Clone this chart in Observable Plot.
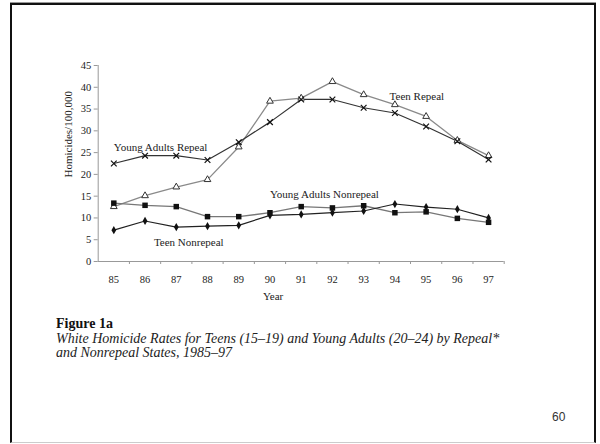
<!DOCTYPE html>
<html>
<head>
<meta charset="utf-8">
<script src="https://cdn.jsdelivr.net/npm/d3@7"></script>
<script src="https://cdn.jsdelivr.net/npm/@observablehq/plot@0.6"></script>
<style>
  html, body { margin: 0; padding: 0; background: #fff; }
  #page { position: relative; width: 600px; height: 444px; overflow: hidden; background: #fff; }
  #frame { position: absolute; left: 10px; top: 3px; width: 582px; height: 437px;
           border-left: 2px solid #111; border-top: 2px solid #111; border-right: 2px solid #111;
           border-bottom: 1px solid #ccc; box-shadow: 0 -1px 0 #999; }
  #chart { position: absolute; left: 0; top: 0; }
  #fig { position: absolute; left: 56px; top: 316px; font-family: "Liberation Serif", serif;
         font-weight: bold; font-size: 14px; color: #111; }
  #cap { position: absolute; left: 56px; top: 332px; font-family: "Liberation Serif", serif;
         font-style: italic; font-size: 14px; line-height: 14px; color: #222; width: 500px; }
  #pg { position: absolute; left: 552px; top: 410px; font-family: "Liberation Sans", Arial, sans-serif;
        font-size: 12px; color: #333; }
  svg [aria-label="y-axis tick"], svg [aria-label="x-axis tick"] { stroke: #999; }
</style>
</head>
<body>
<div id="page">
  <div id="frame"></div>
  <div id="chart"></div>
  <div id="fig">Figure 1a</div>
  <div id="cap">White Homicide Rates for Teens (15–19) and Young Adults (20–24) by Repeal*<br>and Nonrepeal States, 1985–97</div>
  <div id="pg">60</div>
</div>
<script>
const years = [85, 86, 87, 88, 89, 90, 91, 92, 93, 94, 95, 96, 97];
const teenRepeal = [12.6, 15.1, 17.1, 18.8, 26.3, 36.8, 37.5, 41.3, 38.3, 36.0, 33.3, 27.8, 24.3];
const youngAdultsRepeal = [22.5, 24.3, 24.3, 23.3, 27.4, 32.0, 37.2, 37.2, 35.3, 34.1, 31.0, 27.6, 23.4];
const youngAdultsNonrepeal = [13.4, 12.9, 12.6, 10.3, 10.3, 11.2, 12.6, 12.3, 12.8, 11.2, 11.4, 9.9, 9.0];
const teenNonrepeal = [7.2, 9.3, 7.9, 8.1, 8.3, 10.6, 10.8, 11.2, 11.6, 13.2, 12.5, 12.0, 10.0];
const yTicks = [0, 5, 10, 15, 20, 25, 30, 35, 40, 45];
const seriesNames = ["Teen Repeal", "Young Adults Repeal", "Young Adults Nonrepeal", "Teen Nonrepeal"];

const seriesValues = [teenRepeal, youngAdultsRepeal, youngAdultsNonrepeal, teenNonrepeal];
const rows = seriesNames.flatMap((s, i) => years.map((yr, j) => ({series: s, year: yr, value: seriesValues[i][j]})));
const of = s => rows.filter(d => d.series === s);
const between = years.map(y => y + 0.5);
const serif = "Liberation Serif, Times New Roman, serif";

const chart = Plot.plot({
  width: 600,
  height: 310,
  marginLeft: 97.7,
  marginRight: 96.3,
  marginTop: 65,
  marginBottom: 49,
  style: {fontFamily: serif, fontSize: "10.5px", color: "#222", background: "transparent"},
  x: {type: "linear", domain: [84.5, 97.5]},
  y: {domain: [0, 45]},
  marks: [
    Plot.axisY({ticks: yTicks, tickSize: 4, tickPadding: 3, label: null, fontSize: 10.5}),
    Plot.axisX({ticks: years, tickSize: 0, tickPadding: 14, tickFormat: d => String(d), label: null, fontSize: 10.5}),
    Plot.axisX({ticks: between, tickSize: 3, tickFormat: () => "", label: null}),
    Plot.ruleY([0], {stroke: "#999", strokeWidth: 1}),
    Plot.ruleX([84.5], {y1: 0, y2: 45, stroke: "#999", strokeWidth: 1}),
    Plot.line(of("Teen Repeal"), {x: "year", y: "value", stroke: "#8a8a8a", strokeWidth: 1.3}),
    Plot.line(of("Young Adults Repeal"), {x: "year", y: "value", stroke: "#333", strokeWidth: 1.2}),
    Plot.line(of("Young Adults Nonrepeal"), {x: "year", y: "value", stroke: "#777", strokeWidth: 1.3}),
    Plot.line(of("Teen Nonrepeal"), {x: "year", y: "value", stroke: "#222", strokeWidth: 1.2}),
    Plot.dot(of("Teen Repeal"), {x: "year", y: "value", symbol: "triangle", r: 2.5, stroke: "#333", strokeWidth: 1, fill: "white"}),
    Plot.dot(of("Young Adults Repeal"), {x: "year", y: "value", symbol: "times", r: 2.7, stroke: "#111", strokeWidth: 1.2}),
    Plot.dot(of("Young Adults Nonrepeal"), {x: "year", y: "value", symbol: "square", r: 3.1, fill: "#111", stroke: "none"}),
    Plot.dot(of("Teen Nonrepeal"), {x: "year", y: "value", symbol: "diamond", r: 2.5, fill: "#111", stroke: "none"}),
    Plot.text(["Young Adults Repeal"], {x: 85, y: 26.2, text: d => d, textAnchor: "start", fontSize: 11, fill: "#222"}),
    Plot.text(["Teen Repeal"], {x: 93.83, y: 37.9, text: d => d, textAnchor: "start", fontSize: 11, fill: "#222"}),
    Plot.text(["Young Adults Nonrepeal"], {x: 90.0, y: 15.4, text: d => d, textAnchor: "start", fontSize: 11, fill: "#222"}),
    Plot.text(["Teen Nonrepeal"], {x: 87.4, y: 4.4, text: d => d, textAnchor: "middle", fontSize: 11, fill: "#222"}),
    Plot.text(["Homicides/100,000"], {x: 84.5, y: 29.2, text: d => d, rotate: -90, dx: -30, fontSize: 11, fill: "#222"}),
    Plot.text(["Year"], {x: 90.1, y: 0, text: d => d, dy: 35, fontSize: 11, fill: "#222"})
  ]
});
document.getElementById("chart").appendChild(chart);
</script>
</body>
</html>
